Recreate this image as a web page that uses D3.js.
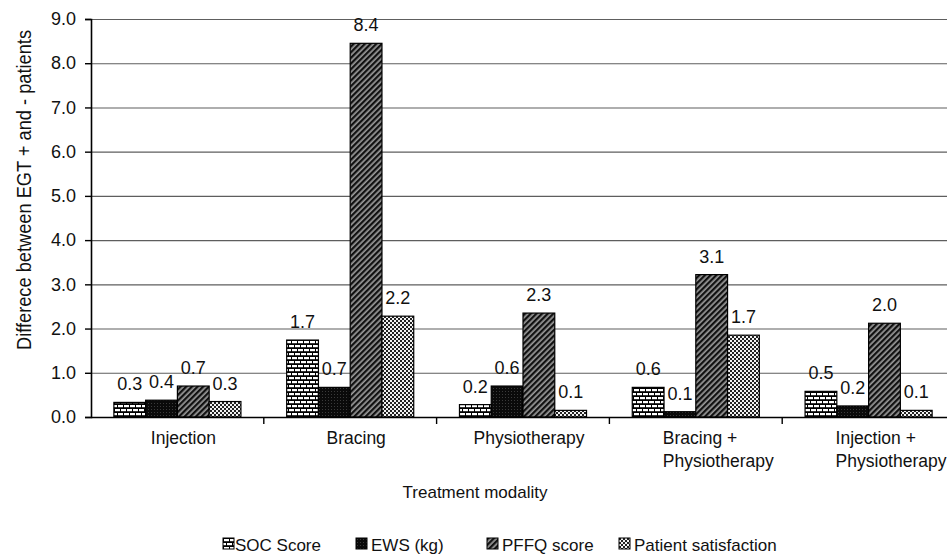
<!DOCTYPE html>
<html><head><meta charset="utf-8">
<script src="https://cdn.jsdelivr.net/npm/d3@7/dist/d3.min.js"></script>
<style>
html,body{margin:0;padding:0;background:#fff;}
svg{display:block;font-family:"Liberation Sans",Arial,Helvetica,sans-serif;}
</style></head>
<body><svg id="chart" width="947" height="556"></svg>
<script>
const categories = [["Injection"], ["Bracing"], ["Physiotherapy"], ["Bracing +", "Physiotherapy"], ["Injection +", "Physiotherapy"]];
const seriesNames = ["SOC Score", "EWS (kg)", "PFFQ score", "Patient satisfaction"];
const socValues  = [0.33, 1.74, 0.28, 0.67, 0.58];
const ewsValues  = [0.38, 0.67, 0.70, 0.12, 0.25];
const pffqValues = [0.70, 8.45, 2.35, 3.22, 2.12];
const psValues   = [0.35, 2.28, 0.15, 1.85, 0.15];
const socLabels  = ["0.3", "1.7", "0.2", "0.6", "0.5"];
const ewsLabels  = ["0.4", "0.7", "0.6", "0.1", "0.2"];
const pffqLabels = ["0.7", "8.4", "2.3", "3.1", "2.0"];
const psLabels   = ["0.3", "2.2", "0.1", "1.7", "0.1"];
const yTicks = [0, 1, 2, 3, 4, 5, 6, 7, 8, 9];
const yTitle = "Differece between EGT + and - patients";
const xTitle = "Treatment modality";

(function(){
const series = [
  {name: seriesNames[0], values: socValues, labels: socLabels, fill: "url(#pBrick)"},
  {name: seriesNames[1], values: ewsValues, labels: ewsLabels, fill: "url(#pBlack)"},
  {name: seriesNames[2], values: pffqValues, labels: pffqLabels, fill: "url(#pHatch)"},
  {name: seriesNames[3], values: psValues, labels: psLabels, fill: "url(#pCheck)"}
];

const svg = d3.select("#chart");
const defs = svg.append("defs");
const pb = defs.append("pattern").attr("id","pBrick").attr("patternUnits","userSpaceOnUse").attr("width",12).attr("height",8);
pb.append("rect").attr("width",12).attr("height",8).attr("fill","#000");
[[1,1],[7,1],[-2,5],[4,5],[10,5]].forEach(([x,yy])=>pb.append("rect").attr("x",x).attr("y",yy).attr("width",5).attr("height",2.2).attr("fill","#fff"));
const pk = defs.append("pattern").attr("id","pBlack").attr("patternUnits","userSpaceOnUse").attr("width",3).attr("height",3);
pk.append("rect").attr("width",3).attr("height",3).attr("fill","#0a0a0a");
pk.append("rect").attr("x",1).attr("y",1).attr("width",1).attr("height",1).attr("fill","#3a3a3a");
const ph = defs.append("pattern").attr("id","pHatch").attr("patternUnits","userSpaceOnUse").attr("width",4).attr("height",4).attr("patternTransform","rotate(45)");
ph.append("rect").attr("width",4).attr("height",4).attr("fill","#9a9a9a");
ph.append("rect").attr("width",2.3).attr("height",4).attr("fill","#111");
const pc = defs.append("pattern").attr("id","pCheck").attr("patternUnits","userSpaceOnUse").attr("width",4).attr("height",4);
pc.append("rect").attr("width",4).attr("height",4).attr("fill","#f2f2f2");
pc.append("rect").attr("width",2).attr("height",2).attr("fill","#222");
pc.append("rect").attr("x",2).attr("y",2).attr("width",2).attr("height",2).attr("fill","#222");

const pLeft = 91, pRight = 955, pTop = 19, pBase = 417;
const x0 = d3.scaleBand().domain(d3.range(categories.length)).range([pLeft, pRight]).paddingInner(0).paddingOuter(0);
const x1 = d3.scaleBand().domain(d3.range(series.length)).range([0, x0.bandwidth()]).paddingInner(0).paddingOuter(0.72);
const y = d3.scaleLinear().domain([0, 9]).range([pBase, pTop]);

svg.append("g").selectAll("line").data(yTicks.filter(d=>d>0)).join("line")
  .attr("x1", pLeft).attr("x2", 947).attr("y1", d=>y(d)+0.5).attr("y2", d=>y(d)+0.5)
  .attr("stroke", "#5e5e5e").attr("stroke-width", 1.1);

const ya = svg.append("g").attr("transform", `translate(${pLeft},0)`)
  .call(d3.axisLeft(y).tickValues(yTicks).tickFormat(d3.format(".1f")).tickSize(6).tickPadding(9));
ya.select(".domain").attr("stroke","#000").attr("stroke-width",1.6);
ya.selectAll(".tick line").attr("stroke","#000").attr("stroke-width",1.4);
ya.selectAll(".tick text").attr("font-size", 18).attr("fill","#111").attr("font-family","Liberation Sans, Arial, sans-serif");

const groups = svg.append("g").selectAll("g").data(series).join("g");
groups.each(function(s, si){
  const g = d3.select(this);
  g.selectAll("rect").data(s.values).join("rect")
    .attr("x", (d,i)=>x0(i)+x1(si)).attr("width", x1.bandwidth())
    .attr("y", d=>y(d)).attr("height", d=>pBase - y(d))
    .attr("fill", s.fill).attr("stroke","#000").attr("stroke-width",1.2);
  g.selectAll("text").data(s.values).join("text")
    .attr("x", (d,i)=>x0(i)+x1(si)+x1.bandwidth()/2)
    .attr("y", d=>y(d)-12)
    .attr("text-anchor","middle").attr("font-size",18).attr("fill","#111")
    .text((d,i)=>s.labels[i]);
});

svg.append("line").attr("x1", pLeft).attr("x2", 947).attr("y1", pBase+0.5).attr("y2", pBase+0.5).attr("stroke","#000").attr("stroke-width",1.6);
svg.append("g").selectAll("line").data(d3.range(1, categories.length)).join("line")
  .attr("x1", d=>x0(d)).attr("x2", d=>x0(d)).attr("y1", pBase).attr("y2", pBase+7)
  .attr("stroke","#000").attr("stroke-width",1.4);

const cl = svg.append("g").selectAll("text").data(categories).join("text")
  .attr("font-size", 17.5).attr("fill","#111")
  .attr("text-anchor", d=>d.length>1 ? "start" : "middle")
  .attr("x", (d,i)=> d.length>1 ? x0(i)+x0.bandwidth()/2-33 : x0(i)+x0.bandwidth()/2+6)
  .attr("y", 444);
cl.selectAll("tspan").data(d=>d).join("tspan")
  .attr("x", function(){return d3.select(this.parentNode).attr("x");})
  .attr("dy", (d,i)=> i===0 ? 0 : 23).text(d=>d);

svg.append("text").attr("x", 475).attr("y", 498).attr("text-anchor","middle").attr("font-size",17).attr("fill","#111").text(xTitle);
svg.append("text").attr("transform","translate(31,190) rotate(-90)").attr("text-anchor","middle")
  .attr("font-size",20).attr("fill","#111")
  .attr("textLength", 320).attr("lengthAdjust","spacingAndGlyphs").text(yTitle);

const legendX = [223, 356, 487, 619];
const lg = svg.append("g").selectAll("g").data(series).join("g").attr("transform",(d,i)=>`translate(${legendX[i]},538)`);
lg.append("rect").attr("width",11).attr("height",11).attr("fill",d=>d.fill).attr("stroke","#000").attr("stroke-width",1);
lg.append("text").attr("x", (d,i)=> i===0 ? 12 : 15).attr("y", 13).attr("font-size",17).attr("fill","#111").text(d=>d.name);
})();
</script>
</body></html>
